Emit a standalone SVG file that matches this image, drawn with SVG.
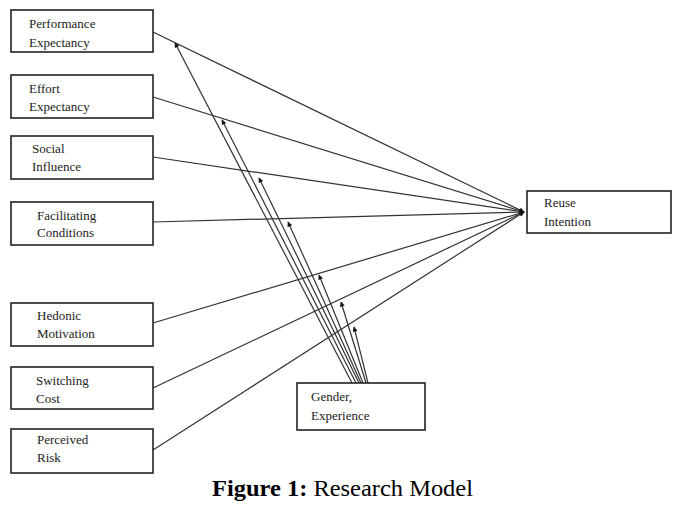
<svg xmlns="http://www.w3.org/2000/svg" width="681" height="513" viewBox="0 0 681 513">
<defs>
<style>
.box{fill:#fff;stroke:#222;stroke-width:1.6}
.t{font-family:"Liberation Serif","Times New Roman",serif;font-size:13px;fill:#222}
.c{stroke:#333;stroke-width:1.2;fill:none}
.cap{font-family:"Liberation Serif","Times New Roman",serif;font-size:23px;fill:#000}
</style>
<marker id="ah" viewBox="0 0 10 10" refX="9" refY="5" markerWidth="6" markerHeight="5" markerUnits="userSpaceOnUse" orient="auto">
<path d="M0,0 L10,5 L0,10 z" fill="#111"/>
</marker>
</defs>
<rect width="681" height="513" fill="#fff"/>
<g id="connectors">
<line class="c" x1="153" y1="32" x2="524" y2="212" marker-end="url(#ah)"/>
<line class="c" x1="153" y1="97" x2="524" y2="212" marker-end="url(#ah)"/>
<line class="c" x1="153" y1="157" x2="524" y2="212" marker-end="url(#ah)"/>
<line class="c" x1="153" y1="222" x2="524" y2="212" marker-end="url(#ah)"/>
<line class="c" x1="153" y1="323" x2="524" y2="212" marker-end="url(#ah)"/>
<line class="c" x1="153" y1="388" x2="524" y2="212" marker-end="url(#ah)"/>
<line class="c" x1="153" y1="450" x2="524" y2="212" marker-end="url(#ah)"/>
<line class="c" x1="352" y1="383" x2="175" y2="43" marker-end="url(#ah)"/>
<line class="c" x1="356" y1="383" x2="222" y2="120" marker-end="url(#ah)"/>
<line class="c" x1="359" y1="383" x2="259" y2="178" marker-end="url(#ah)"/>
<line class="c" x1="361" y1="383" x2="288" y2="222" marker-end="url(#ah)"/>
<line class="c" x1="363" y1="383" x2="319" y2="275" marker-end="url(#ah)"/>
<line class="c" x1="366" y1="383" x2="341" y2="302" marker-end="url(#ah)"/>
<line class="c" x1="368" y1="383" x2="354" y2="327" marker-end="url(#ah)"/>
</g>
<g id="performance-expectancy">
<rect class="box" x="11" y="10" width="142" height="42"/>
<text class="t" x="29" y="28">Performance</text>
<text class="t" x="29" y="47">Expectancy</text>
</g>
<g id="effort-expectancy">
<rect class="box" x="11" y="75" width="142" height="43"/>
<text class="t" x="29" y="93">Effort</text>
<text class="t" x="29" y="111">Expectancy</text>
</g>
<g id="social-influence">
<rect class="box" x="11" y="136" width="142" height="43"/>
<text class="t" x="32" y="153">Social</text>
<text class="t" x="32" y="171">Influence</text>
</g>
<g id="facilitating-conditions">
<rect class="box" x="11" y="202" width="142" height="43"/>
<text class="t" x="37" y="220">Facilitating</text>
<text class="t" x="37" y="237">Conditions</text>
</g>
<g id="hedonic-motivation">
<rect class="box" x="11" y="303" width="142" height="43"/>
<text class="t" x="37" y="320">Hedonic</text>
<text class="t" x="37" y="338">Motivation</text>
</g>
<g id="switching-cost">
<rect class="box" x="11" y="367" width="142" height="42"/>
<text class="t" x="36" y="385">Switching</text>
<text class="t" x="36" y="403">Cost</text>
</g>
<g id="perceived-risk">
<rect class="box" x="11" y="429" width="142" height="44"/>
<text class="t" x="37" y="444">Perceived</text>
<text class="t" x="37" y="462">Risk</text>
</g>
<g id="reuse-intention">
<rect class="box" x="527" y="191" width="144" height="42"/>
<text class="t" x="544" y="207">Reuse</text>
<text class="t" x="544" y="226">Intention</text>
</g>
<g id="gender-experience">
<rect class="box" x="297" y="383" width="128" height="47"/>
<text class="t" x="311" y="401">Gender,</text>
<text class="t" x="311" y="420">Experience</text>
</g>
<text class="cap" x="212" y="496" textLength="261" lengthAdjust="spacingAndGlyphs"><tspan font-weight="bold">Figure 1:</tspan> Research Model</text>
</svg>
